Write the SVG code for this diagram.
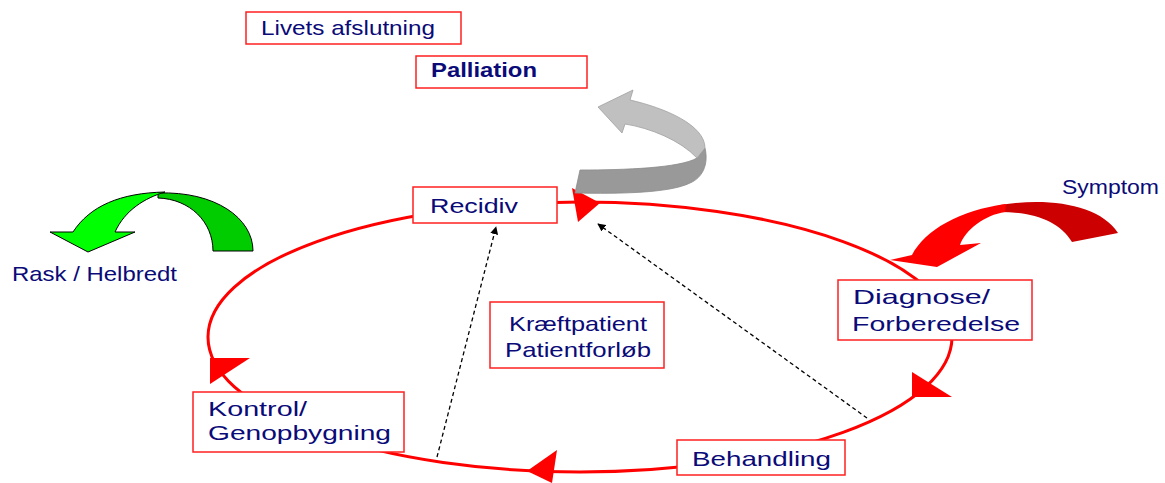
<svg xmlns="http://www.w3.org/2000/svg" width="1165" height="483" viewBox="0 0 1165 483">
<defs>
<style>
.box{fill:#fff;stroke:#ff2020;stroke-width:1.5}
.t{font-family:"Liberation Sans",Arial,sans-serif;fill:#0a0a78;font-size:21px}
.b{font-weight:bold}
.cyc{fill:none;stroke:#ff0000;stroke-width:3}
.head{fill:#ff0000}
.dash{fill:none;stroke:#000;stroke-width:1.3;stroke-dasharray:4 3}
</style>
<marker id="ah" viewBox="0 0 10 10" refX="9" refY="5" markerWidth="8" markerHeight="8" markerUnits="userSpaceOnUse" orient="auto">
<path d="M0,0 L10,5 L0,10 Z" fill="#000"/>
</marker>
</defs>
<rect width="1165" height="483" fill="#fff"/>

<g id="connectors">
<ellipse class="cyc" cx="580" cy="337" rx="372" ry="135"/>
<polygon class="head" points="572,188 600,203 578,222"/>
<polygon class="head" points="912,372 952,397 912,397"/>
<polygon class="head" points="557,450 527,471 552,483"/>
<polygon class="head" points="210,358 250,358 210,384"/>
<line class="dash" x1="437" y1="457" x2="496" y2="227" marker-end="url(#ah)"/>
<line class="dash" x1="867" y1="418" x2="598" y2="224" marker-end="url(#ah)"/>
</g>

<g id="arrow-gray">
<path d="M697,158 L705,148 C709,165 702,178 690,183 C670,193 620,194 575,193 L580,170 C625,170 680,168 697,158 Z" fill="#999999" stroke="#8a8a8a" stroke-width="0.8"/>
<path d="M598,107 L633,90 L630,100 C665,108 705,125 705,148 L697,158 C680,140 650,128 625,124 L622,133 Z" fill="#c0c0c0" stroke="#a0a0a0" stroke-width="0.8"/>
</g>

<g id="arrow-green">
<path d="M158,193 C215,191 253,218 253,251 L213,251 C213,222 190,199 158,198 Z" fill="#00cc00" stroke="#000" stroke-width="1"/>
<path d="M73,232 C90,206 120,193 165,192 C145,198 125,210 115,232 L135,232 L88,252 L50,232 Z" fill="#00ff00" stroke="#000" stroke-width="1"/>
</g>

<g id="arrow-red">
<path d="M1000,205 C1050,197 1100,205 1118,233 L1072,242 C1060,222 1035,212 1000,212 Z" fill="#cc0000"/>
<path d="M912,255 C925,230 960,210 1006,204 L1005,212 C985,215 965,230 960,245 L981,243 L937,267 L890,260 Z" fill="#ff0000"/>
</g>

<g id="node-livets">
<rect class="box" x="246" y="12" width="215" height="32"/>
<text class="t" x="261" y="35" font-size="18.5" textLength="174" lengthAdjust="spacingAndGlyphs">Livets afslutning</text>
</g>
<g id="node-palliation">
<rect class="box" x="416" y="56" width="171" height="32"/>
<text class="t b" x="431" y="77" font-size="19.5" textLength="106" lengthAdjust="spacingAndGlyphs">Palliation</text>
</g>
<g id="node-recidiv">
<rect class="box" x="413" y="187" width="144" height="36"/>
<text class="t" x="430" y="213" font-size="22" textLength="88" lengthAdjust="spacingAndGlyphs">Recidiv</text>
</g>
<g id="node-diagnose">
<rect class="box" x="838" y="280" width="194" height="60"/>
<text class="t" x="853" y="304" textLength="137" lengthAdjust="spacingAndGlyphs">Diagnose/</text>
<text class="t" x="852" y="331" textLength="168" lengthAdjust="spacingAndGlyphs">Forberedelse</text>
</g>
<g id="node-behandling">
<rect class="box" x="677" y="440" width="168" height="35"/>
<text class="t" x="692" y="466" textLength="139" lengthAdjust="spacingAndGlyphs">Behandling</text>
</g>
<g id="node-kontrol">
<rect class="box" x="193" y="392" width="211" height="60"/>
<text class="t" x="208" y="416" textLength="99" lengthAdjust="spacingAndGlyphs">Kontrol/</text>
<text class="t" x="208" y="440" textLength="183" lengthAdjust="spacingAndGlyphs">Genopbygning</text>
</g>
<g id="node-kraeft">
<rect class="box" x="490" y="302" width="174" height="66"/>
<text class="t" x="509" y="331" textLength="138" lengthAdjust="spacingAndGlyphs">Kræftpatient</text>
<text class="t" x="505" y="357" textLength="146" lengthAdjust="spacingAndGlyphs">Patientforløb</text>
</g>
<g id="label-symptom">
<text class="t" x="1062" y="194" font-size="19" textLength="97" lengthAdjust="spacingAndGlyphs">Symptom</text>
</g>
<g id="label-rask">
<text class="t" x="12" y="281" font-size="19.5" textLength="165" lengthAdjust="spacingAndGlyphs">Rask / Helbredt</text>
</g>
</svg>
